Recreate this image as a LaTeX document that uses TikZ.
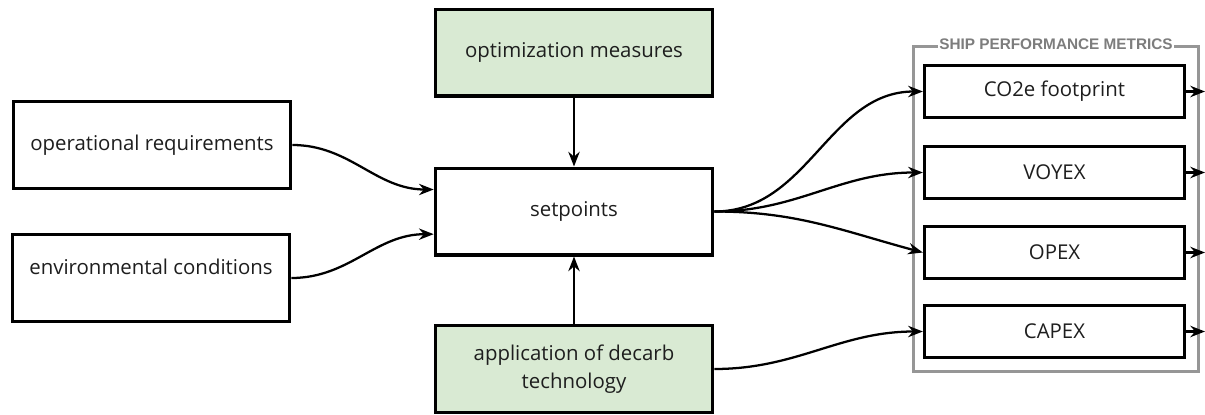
\documentclass[tikz,border=0pt]{standalone}
\usepackage{fontspec}
\setmainfont{Open Sans}
\newfontfamily\metricsfont{Liberation Sans}
\usetikzlibrary{arrows.meta}
\definecolor{boxgreen}{RGB}{217,234,211}
\definecolor{txtgray}{RGB}{30,30,30}
\definecolor{framegray}{RGB}{150,150,150}
\definecolor{titlegray}{RGB}{125,125,125}
\tikzset{every picture/.style={line width=0.75pt}}
\tikzset{
  block/.style={draw=black, line width=2.5pt, fill=white, minimum width=208pt, minimum height=65pt, inner sep=0pt, text=txtgray, font=\fontsize{15.3}{21}\selectfont, align=center},
  greenblock/.style={block, fill=boxgreen},
  metric/.style={block, minimum width=195pt, minimum height=39pt},
  flow/.style={line width=1.7pt, -{Stealth[length=11pt,width=8.5pt]}},
}

\begin{document}
\begin{tikzpicture}[x=0.75pt,y=0.75pt,yscale=-1,xscale=1]
\useasboundingbox (0,0) rectangle (1205,414);

% Input blocks
\node[block] (ops) at (152,145) {operational requirements};
\node[block, text depth=17pt] (env) at (151,278) {environmental conditions};
\node[greenblock] (opt) at (574,52.5) {optimization measures};
\node[block] (set) at (574,211.5) {setpoints};
\node[greenblock] (app) at (574,369) {application of decarb\\technology};

% Ship performance metrics group
\node[draw=framegray, line width=2.6pt, minimum width=214pt, minimum height=244pt, inner sep=0pt] (pmframe) at (1056,209) {};
\node[fill=white, inner xsep=1pt, inner ysep=0pt, text=titlegray, font=\metricsfont\bfseries\fontsize{11.5}{12}\selectfont] (pmtitle) at (pmframe.north) {SHIP PERFORMANCE METRICS};
\node[metric] (co2) at (1054.5,91.5) {CO2e footprint};
\node[metric] (voyex) at (1054.5,172.5) {VOYEX};
\node[metric] (opex) at (1054.5,252.5) {OPEX};
\node[metric] (capex) at (1054.5,331.5) {CAPEX};

% Free ends at the right border
\coordinate (co2out) at (1205,91.5);
\coordinate (voyexout) at (1205,172.5);
\coordinate (opexout) at (1205,252.5);
\coordinate (capexout) at (1205,331.5);

% Connectors
\draw[flow] (ops.east) to[out=0,in=180] ([yshift=-16.5pt]set.west);
\draw[flow] (env.east) to[out=0,in=180] ([yshift=17pt]set.west);
\draw[flow] (opt.south) -- (set.north);
\draw[flow] (app.north) -- (set.south);
\draw[flow] (set.east) to[out=0,in=180] (co2.west);
\draw[flow] (set.east) to[out=0,in=180] (voyex.west);
\draw[flow] (set.east) to[out=0,in=195] (opex.west);
\draw[flow] (app.east) to[out=0,in=180] (capex.west);
\draw[flow] (co2.east) -- (co2out);
\draw[flow] (voyex.east) -- (voyexout);
\draw[flow] (opex.east) -- (opexout);
\draw[flow] (capex.east) -- (capexout);

\end{tikzpicture}
\end{document}
